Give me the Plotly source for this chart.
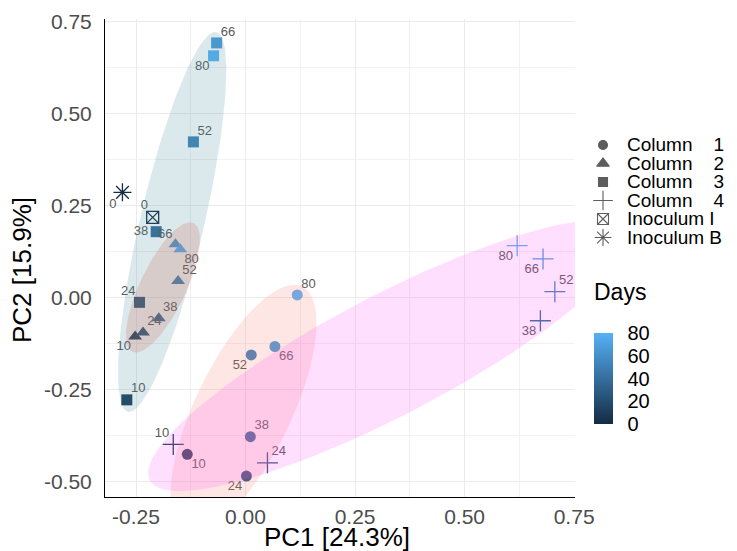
import numpy as np
import plotly.graph_objects as go

# ---------------- data ----------------
days = [10, 24, 38, 52, 66, 80]

col1_pc1 = [-0.133, 0.002, 0.011, 0.013, 0.067, 0.118]
col1_pc2 = [-0.425, -0.484, -0.377, -0.155, -0.132, 0.008]

col2_pc1 = [-0.252, -0.234, -0.198, -0.154, -0.160, -0.149]
col2_pc2 = [-0.105, -0.094, -0.055, 0.046, 0.146, 0.132]

col3_pc1 = [-0.271, -0.242, -0.204, -0.119, -0.066, -0.073]
col3_pc2 = [-0.277, -0.012, 0.180, 0.424, 0.693, 0.658]

col4_pc1 = [-0.165, 0.050, 0.673, 0.706, 0.679, 0.620]
col4_pc2 = [-0.398, -0.448, -0.062, 0.017, 0.106, 0.142]

inocI_days = [0]
inocI_pc1 = [-0.212]
inocI_pc2 = [0.219]

inocB_days = [0]
inocB_pc1 = [-0.281]
inocB_pc2 = [0.287]

NB = "\u00a0"
legend_labels = ["Column" + NB * 4 + "1", "Column" + NB * 4 + "2", "Column" + NB * 4 + "3",
                 "Column" + NB * 4 + "4", "Inoculum" + NB + "I", "Inoculum" + NB + "B"]
x_tickvals = [-0.25, 0.0, 0.25, 0.50, 0.75]
x_ticktext = ["-0.25", "0.00", "0.25", "0.50", "0.75"]
y_tickvals = [-0.50, -0.25, 0.0, 0.25, 0.50, 0.75]
y_ticktext = ["-0.50", "-0.25", "0.00", "0.25", "0.50", "0.75"]
days_ticks = [0, 20, 40, 60, 80]

# ---------------- layout / styles ----------------
FONT = "Liberation Sans, Arial, sans-serif"
OFF = 8                      # page offset of the plot div (body margin)
W, H = 737 - OFF, 551 - OFF
PLOT_L, PLOT_R, PLOT_T, PLOT_B = 105, 575, 19, 497   # target page pixels of the panel
ML = PLOT_L - OFF
MT = PLOT_T - OFF
MB = H - (PLOT_B - OFF)
MR = 5
AREA_W = W - ML - MR
AREA_H = H - MT - MB
X_RANGE = [-0.3208, 0.752]
Y_RANGE = [-0.541, 0.758]
EXPAND_PX = 12               # ggforce-style ellipse expansion
KHACHIYAN_TOL = 0.01         # ggforce default tolerance


def pxx(page_x):
    return (page_x - OFF - ML) / AREA_W


def pxy(page_y):
    return (H - MB - (page_y - OFF)) / AREA_H


COLORSCALE = [[0, "#132B43"], [1, "#56B1F7"]]
LABEL_FONT = dict(family=FONT, size=13, color="#595959")

groups = [
    dict(x=col1_pc1, y=col1_pc2, d=days, symbol="circle", size=11,
         pos=["bottom right", "bottom left", "top right", "bottom left", "bottom right", "top right"],
         gap=[5, 5, 5, 5, 5, 5]),
    dict(x=col2_pc1, y=col2_pc2, d=days, symbol="triangle-up", size=12,
         pos=["bottom left", "top right", "top right", "top right", "top left", "bottom right"],
         gap=[5, 5, 5, 5, 3, 5]),
    dict(x=col3_pc1, y=col3_pc2, d=days, symbol="square", size=11,
         pos=["top right", "top left", "middle left", "top right", "top right", "bottom left"],
         gap=[5, 5, 11, 5, 5, 5]),
    dict(x=col4_pc1, y=col4_pc2, d=days, symbol="cross-thin-open", size=15,
         pos=["top left", "top right", "bottom left", "top right", "bottom left", "bottom left"],
         gap=[5, 5, 5, 5, 5, 5]),
    dict(x=inocI_pc1, y=inocI_pc2, d=inocI_days, symbol="square-x-open", size=12,
         pos=["top left"], gap=[6]),
    dict(x=inocB_pc1, y=inocB_pc2, d=inocB_days, symbol="asterisk-open", size=15,
         pos=["bottom left"], gap=[8]),
]

# enclosing ellipses: which point sets they wrap, and their fill
ellipses = [
    dict(x=col3_pc1 + col2_pc1 + inocI_pc1, y=col3_pc2 + col2_pc2 + inocI_pc2,
         fill="rgba(75,145,160,0.20)"),
    dict(x=col2_pc1, y=col2_pc2, fill="rgba(204,88,76,0.20)"),
    dict(x=col1_pc1, y=col1_pc2, fill="rgba(250,128,118,0.20)"),
    dict(x=col4_pc1, y=col4_pc2, fill="rgba(255,90,250,0.20)"),
]


def mvee(xs, ys, tol=KHACHIYAN_TOL, maxit=5000):
    """Khachiyan enclosing ellipse (as in ggforce::geom_mark_ellipse)."""
    P = np.vstack([xs, ys]).astype(float)
    d, n = P.shape
    Q = np.vstack([P, np.ones(n)])
    u = np.ones(n) / n
    err = 1.0
    it = 0
    while err > tol and it < maxit:
        X = Q @ np.diag(u) @ Q.T
        M = np.einsum("ij,ji->i", Q.T @ np.linalg.inv(X), Q)
        j = int(np.argmax(M))
        step = (M[j] - d - 1) / ((d + 1) * (M[j] - 1))
        new_u = (1 - step) * u
        new_u[j] += step
        err = np.linalg.norm(new_u - u)
        u = new_u
        it += 1
    c = P @ u
    A = np.linalg.inv(P @ np.diag(u) @ P.T - np.outer(c, c)) / d
    return c, A


def mark_ellipse(xs, ys, n=120):
    c, A = mvee(xs, ys)
    sx = (PLOT_R - PLOT_L) / (X_RANGE[1] - X_RANGE[0])
    sy = (PLOT_B - PLOT_T) / (Y_RANGE[1] - Y_RANGE[0])
    Sinv = np.diag([1 / sx, 1 / sy])
    A_px = Sinv @ A @ Sinv
    vals, vecs = np.linalg.eigh(A_px)
    axes = 1 / np.sqrt(vals) + EXPAND_PX
    t = np.linspace(0, 2 * np.pi, n + 1)
    pts_px = vecs @ np.diag(axes) @ np.vstack([np.cos(t), np.sin(t)])
    pts = Sinv @ pts_px
    return c[0] + pts[0], c[1] + pts[1]


fig = go.Figure()

# points
for i, g in enumerate(groups):
    fig.add_trace(go.Scatter(
        x=g["x"], y=g["y"], mode="markers", showlegend=False, hoverinfo="skip",
        cliponaxis=False,
        marker=dict(symbol=g["symbol"], size=g["size"], color=g["d"],
                    colorscale=COLORSCALE, cmin=0, cmax=80,
                    line=dict(width=1.3 if "open" in g["symbol"] else 0),
                    showscale=(i == 0),
                    colorbar=dict(
                        x=pxx(594), xanchor="left",
                        y=pxy(333), yanchor="top",
                        len=424 - 333, lenmode="pixels",
                        thickness=19, thicknessmode="pixels",
                        outlinewidth=0, xpad=0, ypad=0,
                        tickvals=days_ticks, ticks="outside", ticklen=11,
                        tickcolor="rgba(0,0,0,0)",
                        tickfont=dict(family=FONT, size=20, color="black"),
                    ) if i == 0 else None),
    ))

# point labels (invisible spacer markers set the label offset)
for g in groups:
    fig.add_trace(go.Scatter(
        x=g["x"], y=g["y"], mode="markers+text", text=[str(v) for v in g["d"]],
        marker=dict(size=g["gap"], color="rgba(0,0,0,0)", opacity=0,
                    line=dict(width=0, color="rgba(0,0,0,0)")),
        textposition=g["pos"], textfont=LABEL_FONT, showlegend=False,
        hoverinfo="skip", cliponaxis=False,
    ))

# enclosing ellipses (drawn on top, translucent)
for e in ellipses:
    ex, ey = mark_ellipse(e["x"], e["y"])
    fig.add_trace(go.Scatter(
        x=ex, y=ey, mode="lines", fill="toself", fillcolor=e["fill"],
        line=dict(width=0, color="rgba(0,0,0,0)"), showlegend=False, hoverinfo="skip",
    ))

# custom legend (shape key)
leg_symbols = [g["symbol"] for g in groups]
leg_sizes = [9, 11, 9, 14, 11, 14]
fig.add_trace(go.Scatter(
    x=[7] * len(legend_labels), y=list(range(len(legend_labels))),
    xaxis="x3", yaxis="y3", mode="markers", showlegend=False, hoverinfo="skip",
    cliponaxis=False,
    marker=dict(symbol=leg_symbols, size=leg_sizes, color="#1a1a1a",
                line=dict(width=1.1, color="#1a1a1a")),
))
for i, lab in enumerate(legend_labels):
    fig.add_annotation(x=29, y=i, xref="x3", yref="y3", text=lab, showarrow=False,
                       xanchor="left", yanchor="middle",
                       font=dict(family=FONT, size=19, color="black"))

# colourbar title
fig.add_annotation(x=pxx(592), y=pxy(292), xref="paper", yref="paper", text="Days",
                   showarrow=False, xanchor="left", yanchor="middle",
                   font=dict(family=FONT, size=23, color="black"))

# axis titles
fig.add_annotation(x=pxx(337), y=pxy(537), xref="paper", yref="paper",
                   text="PC1 [24.3%]", showarrow=False, xanchor="center", yanchor="middle",
                   font=dict(family=FONT, size=26, color="black"))
fig.add_annotation(x=pxx(22), y=pxy(270), xref="paper", yref="paper",
                   text="PC2 [15.9%]", showarrow=False, textangle=-90,
                   xanchor="center", yanchor="middle",
                   font=dict(family=FONT, size=26, color="black"))

axis_common = dict(
    showline=True, linecolor="black", linewidth=1, mirror=False,
    showgrid=True, gridcolor="#ebebeb", gridwidth=1, zeroline=False,
    tickcolor="rgba(0,0,0,0)",
    tickfont=dict(family=FONT, size=21, color="#4d4d4d"),
)

leg_top, leg_step = 135.75, 18.5
fig.update_layout(
    width=W, height=H,
    margin=dict(l=ML, r=MR, t=MT, b=MB, pad=0, autoexpand=False),
    paper_bgcolor="white", plot_bgcolor="white",
    font=dict(family=FONT),
    xaxis=dict(domain=[0, (PLOT_R - PLOT_L) / AREA_W], range=X_RANGE,
               tickvals=x_tickvals, ticktext=x_ticktext, ticks="outside", ticklen=1,
               minor=dict(dtick=0.125, tick0=0, showgrid=True, gridcolor="#f1f1f1", gridwidth=0.6),
               **axis_common),
    yaxis=dict(domain=[0, 1], range=Y_RANGE,
               tickvals=y_tickvals, ticktext=y_ticktext, ticks="outside", ticklen=8,
               minor=dict(dtick=0.125, tick0=0, showgrid=True, gridcolor="#f1f1f1", gridwidth=0.6),
               **axis_common),
    xaxis3=dict(domain=[pxx(596), 1], range=[0, (W - MR) - (596 - OFF)], anchor="y3",
                visible=False, fixedrange=True),
    yaxis3=dict(domain=[pxy(leg_top + 6 * leg_step), pxy(leg_top)],
                range=[5.5, -0.5], anchor="x3", visible=False, fixedrange=True),
)

fig.write_html("out.html")
